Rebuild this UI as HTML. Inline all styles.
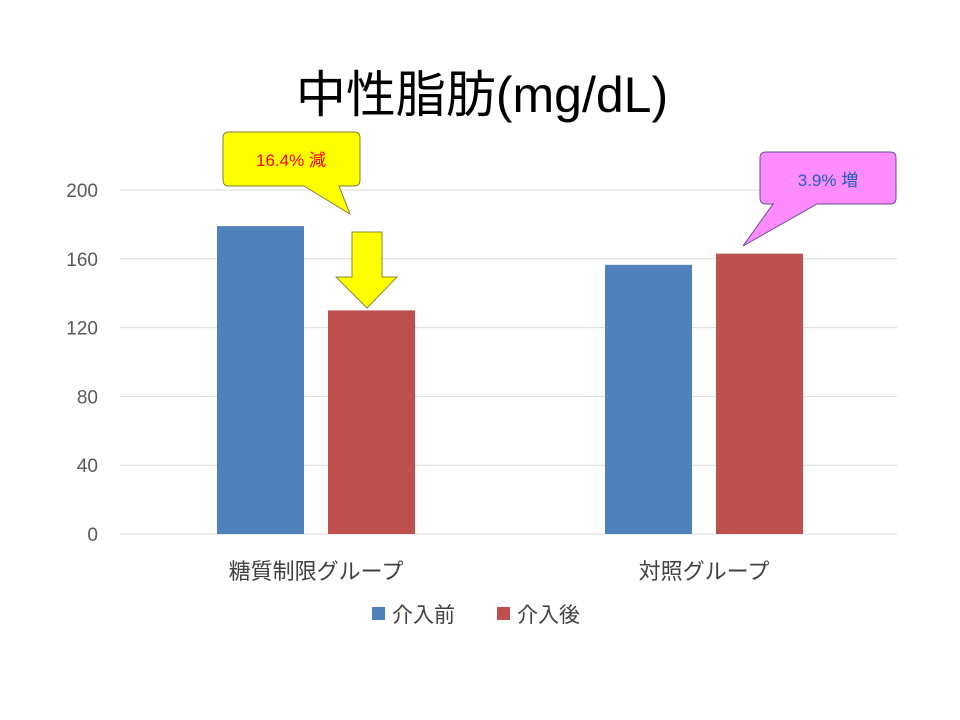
<!DOCTYPE html>
<html><head><meta charset="utf-8"><style>
body{margin:0;background:#fff;}
svg{display:block;font-family:"Liberation Sans","Noto Sans CJK JP",sans-serif;}
</style></head><body>
<svg id="c" width="960" height="720">
<text x="482" y="112" text-anchor="middle" font-size="50" fill="#000">中性脂肪(mg/dL)</text>
<g id="grid"></g><g id="bars"></g>
<g>
<path d="M229,132 H354 Q360,132 360,138 V180 Q360,186 354,186 H339 L350,214 L304,186 H229 Q223,186 223,180 V138 Q223,132 229,132 Z" fill="#ffff00" stroke="#7f7f3f" stroke-width="1"/>
<text x="291" y="166" text-anchor="middle" font-size="17" fill="#ff0000">16.4% 減</text>
</g>
<path d="M352,232 H382 V277 H397 L367,308 L336,277 H352 Z" fill="#ffff00" stroke="#8a8a3a" stroke-width="1"/>
<g>
<path d="M766,152 H890 Q896,152 896,158 V198 Q896,204 890,204 H817 L743,246 L773,204 H766 Q760,204 760,198 V158 Q760,152 766,152 Z" fill="#ff8cff" stroke="#6a4a9a" stroke-width="1"/>
<text x="828" y="186" text-anchor="middle" font-size="17" fill="#2060c0">3.9% 増</text>
</g>
<g>
<rect x="372" y="607" width="13" height="13" fill="#4f81bd"/>
<text x="392" y="622" font-size="21" fill="#404040">介入前</text>
<rect x="497" y="607" width="13" height="13" fill="#c0504d"/>
<text x="517" y="622" font-size="21" fill="#404040">介入後</text>
</g>
</svg>
<script>
const categories=["糖質制限グループ","対照グループ"];
const beforeValues=[179,156.5];
const afterValues=[130,163];
const ticks=[0,40,80,120,160,200];
const NS="http://www.w3.org/2000/svg";
const y0=534,y1=190,ymax=200;
function yS(v){return y0-(y0-y1)*v/ymax;}
const groupCenters=[316,704];
function mk(tag,attrs,parent){const e=document.createElementNS(NS,tag);for(const k in attrs)e.setAttribute(k,attrs[k]);parent.appendChild(e);return e;}
const grid=document.getElementById('grid');
ticks.forEach(t=>{
 const l=mk('line',{x1:120,x2:897,y1:yS(t),y2:yS(t),stroke:'#d9d9d9','stroke-width':1},grid);
 
 
 const tx=mk('text',{x:98,y:yS(t)+7,'text-anchor':'end','font-size':19,fill:'#595959'},grid);
 tx.textContent=t;
 
 
});
const bars=document.getElementById('bars');
categories.forEach((c,i)=>{
 const cx=groupCenters[i];
 const b=mk('rect',{x:cx-99,y:yS(beforeValues[i]),width:87,height:y0-yS(beforeValues[i]),fill:'#4f81bd'},bars);
 
 
 const a=mk('rect',{x:cx+12,y:yS(afterValues[i]),width:87,height:y0-yS(afterValues[i]),fill:'#c0504d'},bars);
 
 
 const t=mk('text',{x:cx,y:579,'text-anchor':'middle','font-size':22,fill:'#404040'},bars);
 t.textContent=c;
 
 
});
</script>
</body></html>
